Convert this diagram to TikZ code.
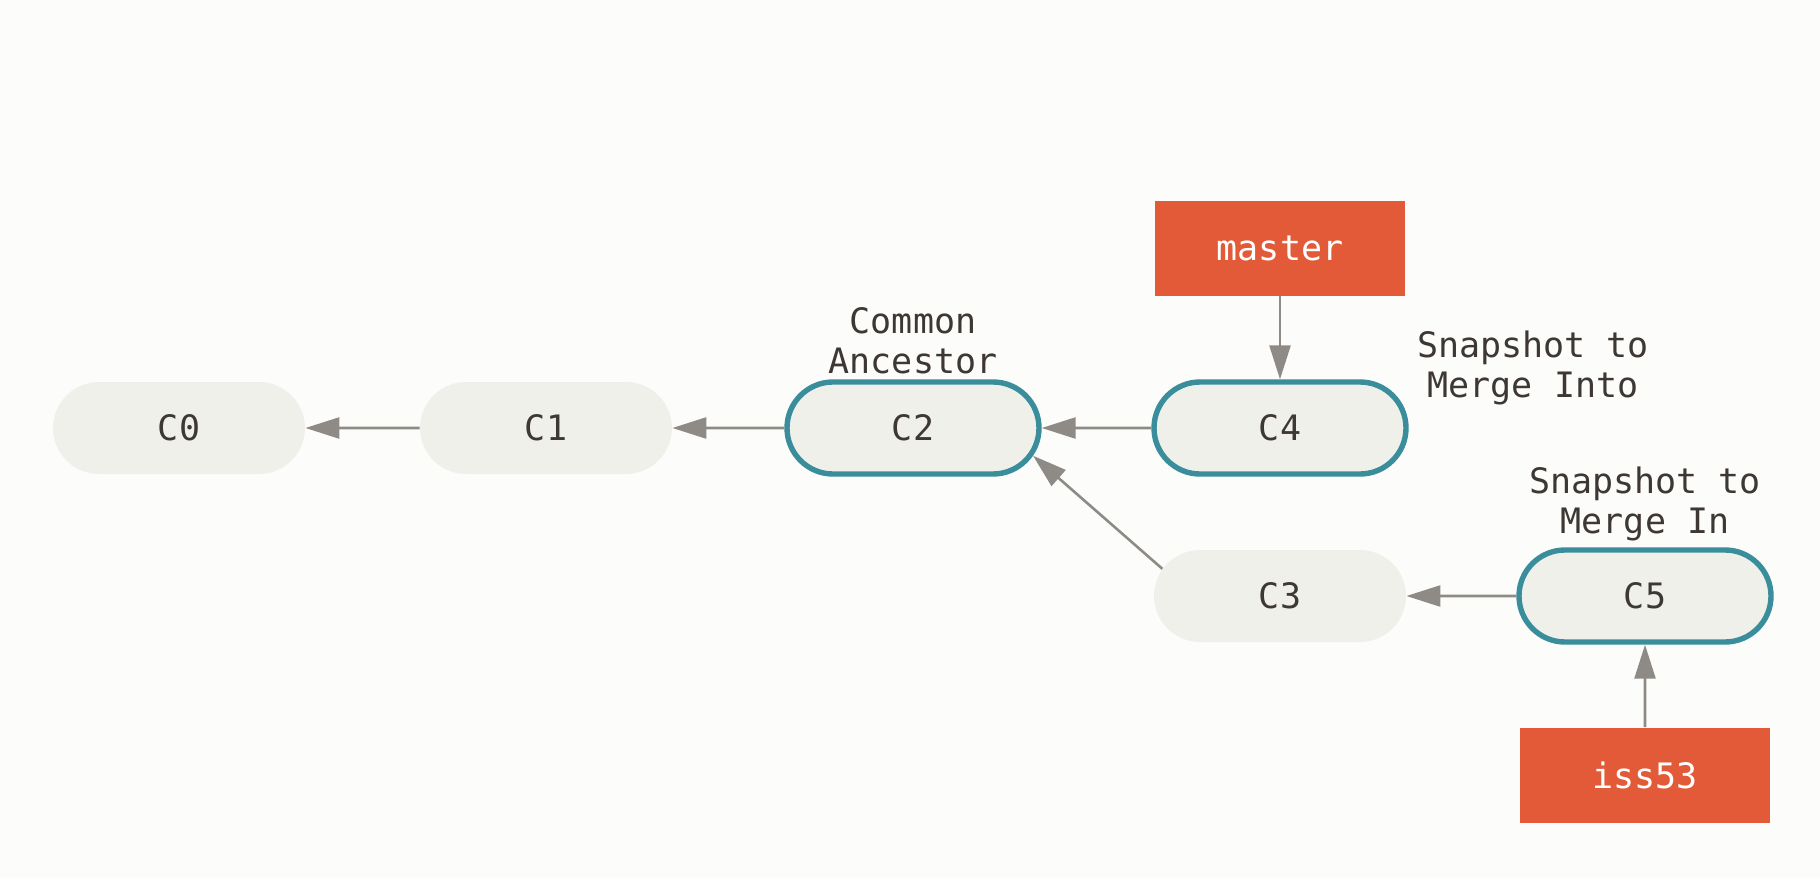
\documentclass[tikz,border=0pt]{standalone}
\usepackage{fontspec}
\setmonofont{DejaVu Sans Mono}
\usetikzlibrary{arrows.meta, positioning, shapes.misc}

\definecolor{commitfill}{HTML}{F0F0EB}
\definecolor{tealline}{HTML}{3A8E9B}
\definecolor{branchred}{HTML}{E25A37}
\definecolor{arrowgray}{HTML}{8E8B86}
\definecolor{textgray}{HTML}{3D3834}
\definecolor{paper}{HTML}{FCFCFA}

\begin{document}
\begin{tikzpicture} [%
    x = 0.5pt, y = -0.5pt,
    node distance = 183.5pt,
    on grid,
    >= {Triangle[length=17pt, width=10.5pt]},
    font = \ttfamily\fontsize{17.5}{20}\selectfont,
    every node/.style = {text = textgray},
    commit/.style = {%
      rounded rectangle,
      fill = commitfill,
      draw = none,
      minimum width = 126pt,
      minimum height = 46pt,
      inner sep = 0pt },
    snapshot/.style = {%
      commit,
      draw = tealline,
      line width = 2.7pt },
    branch/.style = {%
      rectangle,
      fill = branchred,
      text = white,
      minimum width = 125pt,
      minimum height = 47.5pt },
    note/.style = {%
      align = center,
      inner sep = 0pt },
    parent/.style = {%
      ->, color = arrowgray,
      line width = 1.3pt }
  ]

% background
\fill[paper] (0,0) rectangle (1820,878);
\useasboundingbox (0,0) rectangle (1820,878);

\node[commit]    (C0) at (179,428)   {C0};
\node[commit]    (C1) [right=of C0]  {C1};
\node[snapshot]  (C2) [right=of C1]  {C2};
\node[snapshot]  (C4) [right=of C2]  {C4};
\node[commit]    (C3) [below=84pt of C4]  {C3};
\node[snapshot]  (C5) [right=182.5pt of C3] {C5};

\node[branch]    (master) [above=90pt of C4] {master};
\node[branch]    (iss53)  [below=89.5pt of C5] {iss53};

\node[note] (ancestor) [above=43.5pt of C2] {Common\\Ancestor};
\node[note] (into)     at (1533,368) {Snapshot to\\Merge Into};
\node[note] (in)       [above=46pt of C5] {Snapshot to\\Merge In};

\path[parent]
(C1) edge (C0)
(C2) edge (C1)
(C4) edge (C2)
(C3.167) edge (C2.-13)
(C5) edge (C3)
(master) edge (C4)
(iss53) edge (C5);

\end{tikzpicture}
\end{document}
